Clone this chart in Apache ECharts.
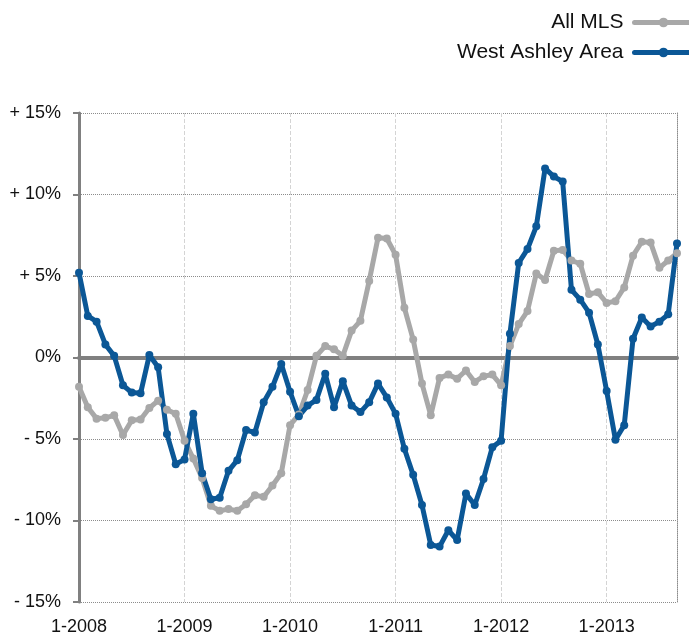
<!DOCTYPE html>
<html>
<head>
<meta charset="utf-8">
<script src="https://cdn.jsdelivr.net/npm/echarts@6/dist/echarts.min.js"></script>
<style>
html, body { margin: 0; padding: 0; background: #fff; }
#chart { width: 689px; height: 636px; }
</style>
</head>
<body>
<div id="chart"></div>
<script>
// monthly, 1-2008 .. 9-2013
const years = [2008, 2009, 2010, 2011, 2012, 2013];
const lastMonth2013 = 9;
const months = [];
years.forEach(y => {
    const end = y === 2013 ? lastMonth2013 : 12;
    for (let m = 1; m <= end; m++) months.push(m + '-' + y);
});

const allMls = [
    -1.8, -3.05, -3.75, -3.7, -3.55, -4.75, -3.85, -3.8, -3.1, -2.65, -3.2, -3.45,
    -5.1, -6.2, -7.4, -9.1, -9.4, -9.3, -9.4, -9.0, -8.45, -8.55, -7.85, -7.1,
    -4.15, -3.5, -2.0, 0.1, 0.7, 0.5, 0.1, 1.65, 2.25, 4.7, 7.35, 7.3,
    6.3, 3.05, 1.1, -1.6, -3.55, -1.25, -1.05, -1.3, -0.8, -1.5, -1.15, -1.05,
    -1.7, 0.7, 2.05, 2.85, 5.15, 4.75, 6.55, 6.6, 5.95, 5.75, 3.9, 4.0,
    3.35, 3.45, 4.3, 6.25, 7.1, 7.05, 5.5, 5.95, 6.4
];
const westAshley = [
    5.2, 2.55, 2.2, 0.8, 0.1, -1.7, -2.15, -2.2, 0.15, -0.6, -4.7, -6.55,
    -6.25, -3.45, -7.1, -8.7, -8.6, -6.95, -6.3, -4.45, -4.6, -2.75, -1.8, -0.4,
    -2.1, -3.6, -2.95, -2.6, -1.0, -3.05, -1.45, -2.95, -3.35, -2.75, -1.6, -2.45,
    -3.45, -5.6, -7.2, -9.05, -11.5, -11.6, -10.6, -11.2, -8.35, -9.05, -7.45, -5.5,
    -5.1, 1.45, 5.8, 6.65, 8.05, 11.6, 11.1, 10.8, 4.15, 3.55, 2.75, 0.8,
    -2.05, -5.05, -4.15, 1.15, 2.45, 1.9, 2.2, 2.65, 7.0
];

const yTicks = [-15, -10, -5, 0, 5, 10, 15];
const yTickLabels = ['- 15%', '- 10%', '- 5%', '0%', '+ 5%', '+ 10%', '+ 15%'];

const font = '"Liberation Sans", Arial, Helvetica, sans-serif';
const grayColor = '#a8a8a8';
const blueColor = '#0b5796';
const axisGray = '#808080';

const chart = echarts.init(document.getElementById('chart'));

function makeSeries(name, data, color) {
    return {
        name: name,
        type: 'line',
        data: data,
        xAxisIndex: 0,
        yAxisIndex: 0,
        symbol: 'circle',
        symbolSize: 8,
        showAllSymbol: true,
        lineStyle: { color: color, width: 5, join: 'round', cap: 'round' },
        itemStyle: { color: color, borderWidth: 0 },
        emphasis: { disabled: true }
    };
}

chart.setOption({
    animation: false,
    textStyle: { fontFamily: font },
    grid: { left: 79, right: 12, top: 113, bottom: 32, containLabel: false },
    legend: {
        data: ['All MLS', 'West Ashley Area'],
        orient: 'vertical',
        align: 'right',
        right: -6,
        top: 12,
        padding: 0,
        itemWidth: 58,
        itemHeight: 12,
        itemGap: 9,
        lineStyle: { width: 5 },
        textStyle: { fontSize: 21, color: '#111', fontFamily: font, padding: [0, 6, 0, 0] }
    },
    xAxis: [{
        type: 'category',
        data: months,
        boundaryGap: false,
        position: 'bottom',
        axisLine: { show: false, onZero: false },
        axisTick: { show: false },
        axisLabel: {
            interval: (i) => i % 12 === 0,
            fontSize: 18,
            color: '#111',
            margin: 16,
            fontFamily: font
        },
        splitLine: {
            show: true,
            interval: (i) => i % 12 === 0,
            lineStyle: { color: '#d4d4d4', type: 'dashed', width: 1 }
        }
    }, {
        type: 'category',
        data: months,
        boundaryGap: false,
        position: 'top',
        axisLine: { show: true, onZero: true, lineStyle: { color: axisGray, width: 4 } },
        axisTick: { show: false },
        axisLabel: { show: false },
        splitLine: { show: false }
    }],
    yAxis: [{
        type: 'value',
        min: -15,
        max: 15,
        interval: 5,
        position: 'left',
        axisLine: { show: true, lineStyle: { color: axisGray, width: 3 } },
        axisTick: { show: true, length: 6, lineStyle: { color: axisGray, width: 2 } },
        axisLabel: {
            fontSize: 18,
            color: '#111',
            margin: 18,
            fontFamily: font,
            formatter: (v) => yTickLabels[yTicks.indexOf(v)]
        },
        splitLine: { show: true, lineStyle: { color: '#8c8c8c', type: 'dotted', width: 1 } }
    }, {
        type: 'value',
        min: -15,
        max: 15,
        interval: 5,
        position: 'right',
        axisLine: { show: true, lineStyle: { color: '#8c8c8c', type: 'dotted', width: 1 } },
        axisTick: { show: false },
        axisLabel: { show: false },
        splitLine: { show: false }
    }],
    series: [
        makeSeries('All MLS', allMls, grayColor),
        makeSeries('West Ashley Area', westAshley, blueColor)
    ]
});
</script>
</body>
</html>
